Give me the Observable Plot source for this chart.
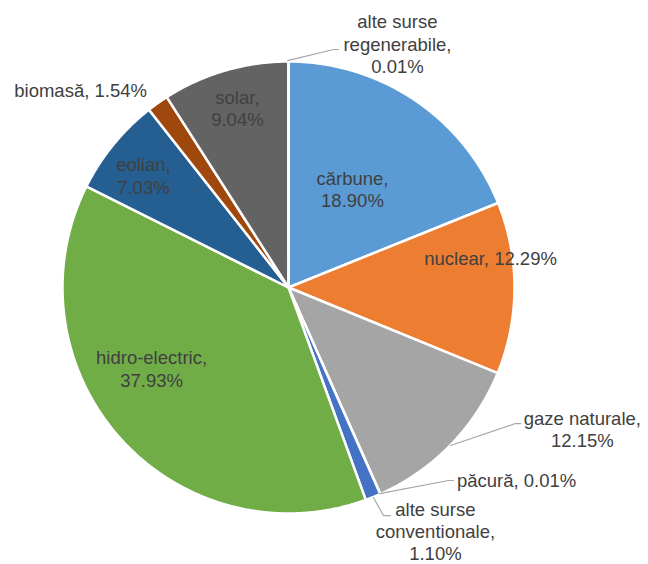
<!DOCTYPE html>
<html>
<head>
<meta charset="utf-8">
<script src="https://cdn.jsdelivr.net/npm/d3@7"></script>
<script src="https://cdn.jsdelivr.net/npm/@observablehq/plot@0.6"></script>
<style>
  html, body { margin: 0; padding: 0; background: #fff; }
  #chart { width: 648px; height: 564px; overflow: hidden; }
</style>
</head>
<body>
<div id="chart"></div>
<script>
// ---- data ----
const categories = ["cărbune", "nuclear", "gaze naturale", "păcură", "alte surse conventionale",
  "hidro-electric", "eolian", "biomasă", "solar", "alte surse regenerabile"];
const values = [18.90, 12.29, 12.15, 0.01, 1.10, 37.93, 7.03, 1.54, 9.04, 0.01];
const colors = ["#5B9BD5", "#ED7D31", "#A5A5A5", "#FFC000", "#4472C4",
  "#70AD47", "#255E91", "#9E480E", "#636363", "#997300"];
const labelTexts = ["cărbune,\n18.90%", "nuclear, 12.29%", "gaze naturale,\n12.15%", "păcură, 0.01%",
  "alte surse\nconventionale,\n1.10%", "hidro-electric,\n37.93%", "eolian,\n7.03%", "biomasă, 1.54%",
  "solar,\n9.04%", "alte surse\nregenerabile,\n0.01%"];

// ---- layout (unit-circle coordinates for labels and leader lines) ----
const labelPos = [[0.283, 0.438], [0.894, 0.133], [1.300, -0.624], [1.009, -0.850], [0.650, -1.078],
  [-0.606, -0.358], [-0.642, 0.496], [-0.920, 0.876], [-0.226, 0.796], [0.482, 1.080]];
const leaders = {
  "alte surse regenerabile": [[-0.004, 1.004], [0.199, 1.053], [0.221, 1.053]],
  "gaze naturale": [[0.717, -0.699], [1.004, -0.602], [1.027, -0.602]],
  "păcură": [[0.403, -0.912], [0.708, -0.854], [0.730, -0.854]],
  "alte surse conventionale": [[0.376, -0.929], [0.420, -1.009], [0.451, -1.009]]
};

// ---- slices as polygons ----
const arcs = d3.pie().sort(null).value(d => d)(values);
const slicePts = [];
arcs.forEach((a, i) => {
  const n = Math.max(2, Math.ceil((a.endAngle - a.startAngle) / 0.005));
  slicePts.push({k: categories[i], x: 0, y: 0, c: colors[i]});
  for (let j = 0; j <= n; j++) {
    const t = a.startAngle + (a.endAngle - a.startAngle) * j / n;
    slicePts.push({k: categories[i], x: Math.sin(t), y: Math.cos(t), c: colors[i]});
  }
});
const labels = categories.map((c, i) => ({text: labelTexts[i], x: labelPos[i][0], y: labelPos[i][1]}));
const leaderPts = Object.entries(leaders).flatMap(([k, pts]) => pts.map(([x, y]) => ({k, x, y})));

const plot = Plot.plot({
  width: 648,
  height: 564,
  marginLeft: 62, marginRight: 134, marginTop: 61, marginBottom: 51,
  x: {domain: [-1, 1], axis: null},
  y: {domain: [-1, 1], axis: null},
  color: {type: "identity"},
  style: {background: "#fff", overflow: "visible", fontFamily: "Arial, 'Liberation Sans', sans-serif"},
  marks: [
    Plot.line(slicePts, {x: "x", y: "y", z: "k", fill: "c", stroke: "#fff", strokeWidth: 2.5,
      curve: "linear-closed", strokeLinejoin: "round"}),
    Plot.line(leaderPts, {x: "x", y: "y", z: "k", stroke: "#A6A6A6", strokeWidth: 1.2}),
    Plot.text(labels, {x: "x", y: "y", text: "text", fill: "#404040", fontSize: 18.5,
      lineHeight: 1.2, lineAnchor: "middle", textAnchor: "middle"})
  ]
});
document.getElementById("chart").appendChild(plot);
</script>
</body>
</html>
